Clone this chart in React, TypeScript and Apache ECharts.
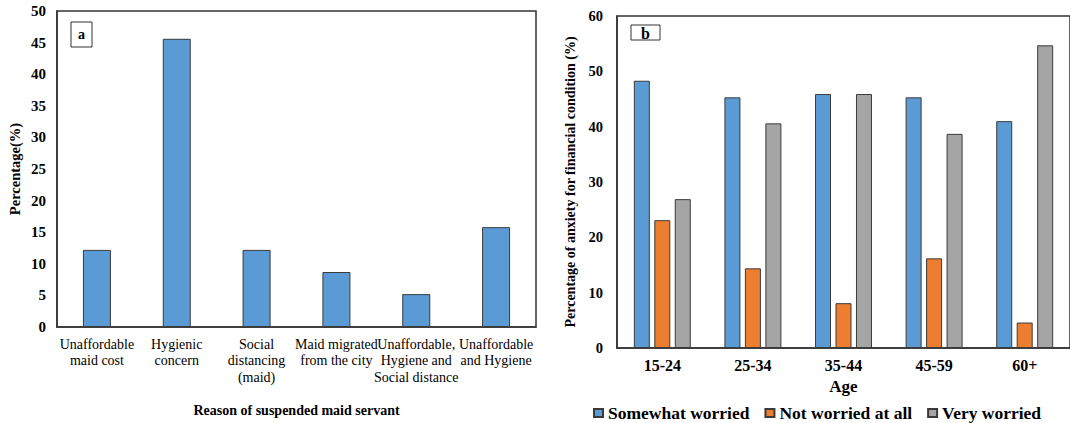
import React, { useEffect, useRef } from "react";
import * as echarts from "echarts";

const reasonCategories = [
  "Unaffordable\nmaid cost",
  "Hygienic\nconcern",
  "Social\ndistancing\n(maid)",
  "Maid migrated\nfrom the city",
  "Unaffordable,\nHygiene and\nSocial distance",
  "Unaffordable\nand Hygiene",
];
const reasonValues = [12.2, 45.6, 12.2, 8.7, 5.2, 15.8];

const ageCategories = ["15-24", "25-34", "35-44", "45-59", "60+"];
const somewhatWorried = [48.3, 45.3, 45.9, 45.3, 41.0];
const notWorried = [23.1, 14.4, 8.1, 16.2, 4.6];
const veryWorried = [26.9, 40.6, 45.9, 38.7, 54.7];

const SERIF = "'Liberation Serif', 'Times New Roman', serif";

export default function App() {
  const ref = useRef<HTMLDivElement>(null);
  useEffect(() => {
    if (!ref.current) return;
    const chart = echarts.init(ref.current, undefined, { renderer: "svg" });
    const barBorder = { borderColor: "#3a3a3a", borderWidth: 1 };
    chart.setOption({
      animation: false,
      backgroundColor: "#ffffff",
      textStyle: { fontFamily: SERIF, color: "#000" },
      grid: [
        { left: 57, top: 11, width: 479, height: 316, show: true, borderColor: "#333", borderWidth: 1.5, backgroundColor: "transparent" },
        { left: 617, top: 16, width: 457, height: 332, show: true, borderColor: "#333", borderWidth: 1.5, backgroundColor: "transparent" },
      ],
      legend: {
        data: ["Somewhat worried", "Not worried at all", "Very worried"],
        left: 588,
        top: 399,
        itemWidth: 9,
        itemHeight: 8,
        itemGap: 15,
        icon: "rect",
        textStyle: { fontFamily: SERIF, fontWeight: "bold", fontSize: 17.5, color: "#000" },
      },
      xAxis: [
        {
          type: "category",
          gridIndex: 0,
          data: reasonCategories,
          axisTick: { show: false },
          axisLine: { lineStyle: { color: "#333", width: 1.5 } },
          axisLabel: { interval: 0, fontFamily: SERIF, fontSize: 14, color: "#000", lineHeight: 16.5, margin: 9 },
          name: "Reason of suspended maid servant",
          nameLocation: "middle",
          nameGap: 76,
          nameTextStyle: { fontFamily: SERIF, fontWeight: "bold", fontSize: 14, color: "#000" },
        },
        {
          type: "category",
          gridIndex: 1,
          data: ageCategories,
          axisTick: { show: false },
          axisLine: { lineStyle: { color: "#333", width: 1.5 } },
          axisLabel: { interval: 0, fontFamily: SERIF, fontWeight: "bold", fontSize: 16, color: "#000", margin: 9 },
          name: "Age",
          nameLocation: "middle",
          nameGap: 28,
          nameTextStyle: { fontFamily: SERIF, fontWeight: "bold", fontSize: 17, color: "#000" },
        },
      ],
      yAxis: [
        {
          type: "value",
          gridIndex: 0,
          min: 0,
          max: 50,
          interval: 5,
          splitLine: { show: false },
          axisLine: { show: true, lineStyle: { color: "#333", width: 1.5 } },
          axisTick: { show: false },
          axisLabel: { fontFamily: SERIF, fontWeight: "bold", fontSize: 15, color: "#000", margin: 11 },
          name: "Percentage(%)",
          nameLocation: "middle",
          nameGap: 35,
          nameTextStyle: { fontFamily: SERIF, fontWeight: "bold", fontSize: 14.5, color: "#000" },
        },
        {
          type: "value",
          gridIndex: 1,
          min: 0,
          max: 60,
          interval: 10,
          splitLine: { show: false },
          axisLine: { show: true, lineStyle: { color: "#333", width: 1.5 } },
          axisTick: { show: false },
          axisLabel: { fontFamily: SERIF, fontWeight: "bold", fontSize: 14.5, color: "#000", margin: 14 },
          name: "Percentage of anxiety for financial condition (%)",
          nameLocation: "middle",
          nameGap: 40,
          nameTextStyle: { fontFamily: SERIF, fontWeight: "bold", fontSize: 14, color: "#000" },
        },
      ],
      series: [
        {
          type: "bar",
          xAxisIndex: 0,
          yAxisIndex: 0,
          data: reasonValues,
          barWidth: 28,
          itemStyle: { color: "#5B9BD5", ...barBorder },
        },
        {
          name: "Somewhat worried",
          type: "bar",
          xAxisIndex: 1,
          yAxisIndex: 1,
          data: somewhatWorried,
          barWidth: 16,
          barGap: "28%",
          itemStyle: { color: "#5B9BD5", ...barBorder },
        },
        {
          name: "Not worried at all",
          type: "bar",
          xAxisIndex: 1,
          yAxisIndex: 1,
          data: notWorried,
          barWidth: 16,
          barGap: "28%",
          itemStyle: { color: "#ED7D31", ...barBorder },
        },
        {
          name: "Very worried",
          type: "bar",
          xAxisIndex: 1,
          yAxisIndex: 1,
          data: veryWorried,
          barWidth: 16,
          barGap: "28%",
          itemStyle: { color: "#A5A5A5", ...barBorder },
        },
      ],
      graphic: [
        { type: "rect", shape: { x: 71, y: 22, width: 21, height: 25 }, style: { fill: "#fff", stroke: "#333", lineWidth: 1 } },
        { type: "text", x: 81.5, y: 34.5, style: { text: "a", fontFamily: SERIF, fontWeight: "bold", fontSize: 14, fill: "#000", align: "center", verticalAlign: "middle" } },
        { type: "rect", shape: { x: 631, y: 25, width: 29, height: 15 }, style: { fill: "#fff", stroke: "#333", lineWidth: 1 } },
        { type: "text", x: 645.5, y: 33, style: { text: "b", fontFamily: SERIF, fontWeight: "bold", fontSize: 16, fill: "#000", align: "center", verticalAlign: "middle" } },
      ],
    });
    return () => chart.dispose();
  }, []);
  return <div ref={ref} style={{ position: "fixed", left: 0, top: 0, width: 1070, height: 423 }} />;
}
